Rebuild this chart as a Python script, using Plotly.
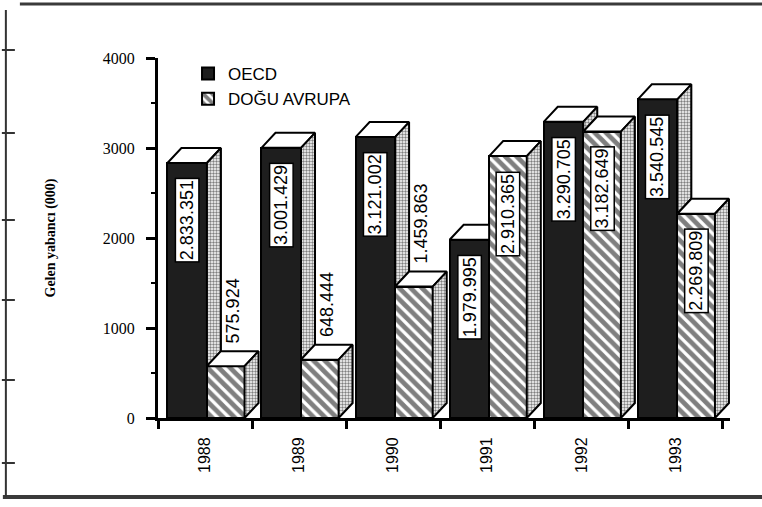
import plotly.graph_objects as go

# ---------------- data ----------------
years = ["1988", "1989", "1990", "1991", "1992", "1993"]
oecd = [2833.351, 3001.429, 3121.002, 1979.995, 3290.705, 3540.545]
dogu = [575.924, 648.444, 1459.863, 2910.365, 3182.649, 2269.809]
series_names = ["OECD", "DOĞU AVRUPA"]
y_ticks = [0, 1000, 2000, 3000, 4000]
y_title = "Gelen yabancı (000)"

# ---------------- layout geometry ----------------
W, H = 762, 507
L, T, B = 158, 58, 89
CAT_PX = 94.0
X_MIN, X_MAX = -0.5, 5.58
PW = CAT_PX * (X_MAX - X_MIN)
R = W - L - PW
PH = H - T - B
Y_MAX = 4000

DX = 14 / CAT_PX          # depth in category units
DY = 15 / PH * Y_MAX      # depth in value units
O_OFF, O_W = -0.40, 0.42
D_OFF, D_W = 0.02, 0.40
INSIDE_MIN = 1600         # labels of shorter bars go above the bar

xs = list(range(len(years)))


def fmt(v):
    return f"{round(v * 1000):,}".replace(",", ".")


def add_poly(store, pts):
    for px, py in pts:
        store[0].append(px)
        store[1].append(py)
    store[0].append(pts[0][0])
    store[1].append(pts[0][1])
    store[0].append(None)
    store[1].append(None)


o_top, o_side, d_top, d_side = ([], []), ([], []), ([], []), ([], [])
for i, (h1, h2) in zip(xs, zip(oecd, dogu)):
    a = i + O_OFF
    b = a + O_W
    c = i + D_OFF + D_W
    if h2 > h1:
        add_poly(o_top, [(a, h1), (b, h1), (b, h1 + DY), (a + DX, h1 + DY)])
    else:
        add_poly(o_top, [(a, h1), (b, h1), (b + DX, h1 + DY), (a + DX, h1 + DY)])
        add_poly(o_side, [(b, h2), (b, h1), (b + DX, h1 + DY), (b + DX, h2 + DY)])
    add_poly(d_top, [(b, h2), (c, h2), (c + DX, h2 + DY), (b + DX, h2 + DY)])
    add_poly(d_side, [(c, 0), (c, h2), (c + DX, h2 + DY), (c + DX, DY)])

side_pattern = dict(shape=".", fgcolor="black", bgcolor="white", size=3, solidity=0.5)
edge = dict(color="black", width=2)

fig = go.Figure()
fig.add_trace(go.Bar(
    x=xs, y=oecd, name=series_names[0], offset=O_OFF, width=O_W,
    marker=dict(color="#1e1e1e", line=edge), hoverinfo="skip",
))
fig.add_trace(go.Bar(
    x=xs, y=dogu, name=series_names[1], offset=D_OFF, width=D_W,
    marker=dict(color="white", line=edge,
                pattern=dict(shape="\\", fgcolor="black", bgcolor="white",
                             size=8, solidity=0.6)),
    hoverinfo="skip",
))
for store, kind in [(o_top, "top"), (o_side, "side"), (d_top, "top"), (d_side, "side")]:
    if not store[0]:
        continue
    kw = dict(fillcolor="white") if kind == "top" else dict(fillpattern=side_pattern)
    fig.add_trace(go.Scatter(
        x=store[0], y=store[1], mode="lines", fill="toself", line=edge,
        showlegend=False, hoverinfo="skip", **kw,
    ))

label_font = dict(family="Liberation Sans, Arial", size=18, color="black")
annotations = []
for i, h1, h2 in zip(xs, oecd, dogu):
    annotations.append(dict(
        x=i + O_OFF + O_W / 2, y=h1, xref="x", yref="y", text=fmt(h1),
        textangle=-90, showarrow=False, yanchor="top", xanchor="center",
        yshift=-15, bgcolor="white", bordercolor="black", borderwidth=1.5,
        borderpad=1, font=label_font,
    ))
    cx = i + D_OFF + D_W / 2
    if h2 >= INSIDE_MIN:
        annotations.append(dict(
            x=cx, y=h2, xref="x", yref="y", text=fmt(h2), textangle=-90,
            showarrow=False, yanchor="top", xanchor="center", yshift=-15,
            bgcolor="white", bordercolor="black", borderwidth=1.5, borderpad=1,
            font=label_font,
        ))
    else:
        annotations.append(dict(
            x=cx + DX / 2, y=h2 + DY, xref="x", yref="y", text=fmt(h2),
            textangle=-90, showarrow=False, yanchor="bottom", xanchor="center",
            yshift=6, font=label_font,
        ))


def px_x(p):
    return (p - L) / PW


def px_y(p):
    return (H - B - p) / PH


frame = "#3a3a3a"
shapes = [
    dict(type="line", xref="paper", yref="paper", x0=px_x(20), x1=px_x(762),
         y0=px_y(4), y1=px_y(4), line=dict(color=frame, width=3)),
    dict(type="line", xref="paper", yref="paper", x0=px_x(3), x1=px_x(762),
         y0=px_y(497), y1=px_y(497), line=dict(color=frame, width=4)),
    dict(type="line", xref="paper", yref="paper", x0=px_x(6), x1=px_x(6),
         y0=px_y(10), y1=px_y(497), line=dict(color="#333", width=2)),
]
for yy in [50, 133, 220, 300, 380, 463]:
    shapes.append(dict(type="line", xref="paper", yref="paper", x0=px_x(2),
                       x1=px_x(15), y0=px_y(yy), y1=px_y(yy),
                       line=dict(color="#333", width=2)))

fig.update_layout(
    width=W, height=H,
    margin=dict(l=L, r=R, t=T, b=B, autoexpand=False),
    paper_bgcolor="white", plot_bgcolor="white",
    barmode="overlay", bargap=0,
    showlegend=True,
    legend=dict(x=px_x(188), y=px_y(56), xanchor="left", yanchor="top",
                font=dict(family="Liberation Sans, Arial", size=17, color="black"),
                bgcolor="rgba(0,0,0,0)", itemclick=False),
    annotations=annotations,
    shapes=shapes,
    xaxis=dict(
        range=[X_MIN, X_MAX], tickmode="array", tickvals=xs, ticktext=years,
        ticks="", tickangle=-90, ticklabelstandoff=10,
        tickfont=dict(family="Liberation Sans, Arial", size=16, color="black"),
        showline=True, linecolor="black", linewidth=3, showgrid=False,
        zeroline=False, fixedrange=True,
        minor=dict(tickmode="array", tickvals=[v - 0.5 for v in xs] + [xs[-1] + 0.5],
                   ticks="outside", ticklen=8, tickwidth=2.5, tickcolor="black",
                   showgrid=False),
    ),
    yaxis=dict(
        range=[0, Y_MAX], tickmode="array", tickvals=y_ticks,
        ticks="outside", ticklen=9, tickwidth=2.5, tickcolor="black",
        ticklabelstandoff=8,
        tickfont=dict(family="Liberation Serif, Times New Roman", size=16, color="black"),
        showline=True, linecolor="black", linewidth=3, showgrid=False,
        zeroline=False, fixedrange=True,
        minor=dict(dtick=500, tick0=0, ticks="outside", ticklen=4, tickwidth=2,
                   tickcolor="black", showgrid=False),
        title=dict(text=y_title, standoff=44,
                   font=dict(family="Liberation Serif, Times New Roman", size=14,
                             color="black", weight="bold")),
    ),
)

fig.write_html("out.html", config={"displayModeBar": False},
               post_script="document.body.style.margin='0';")
